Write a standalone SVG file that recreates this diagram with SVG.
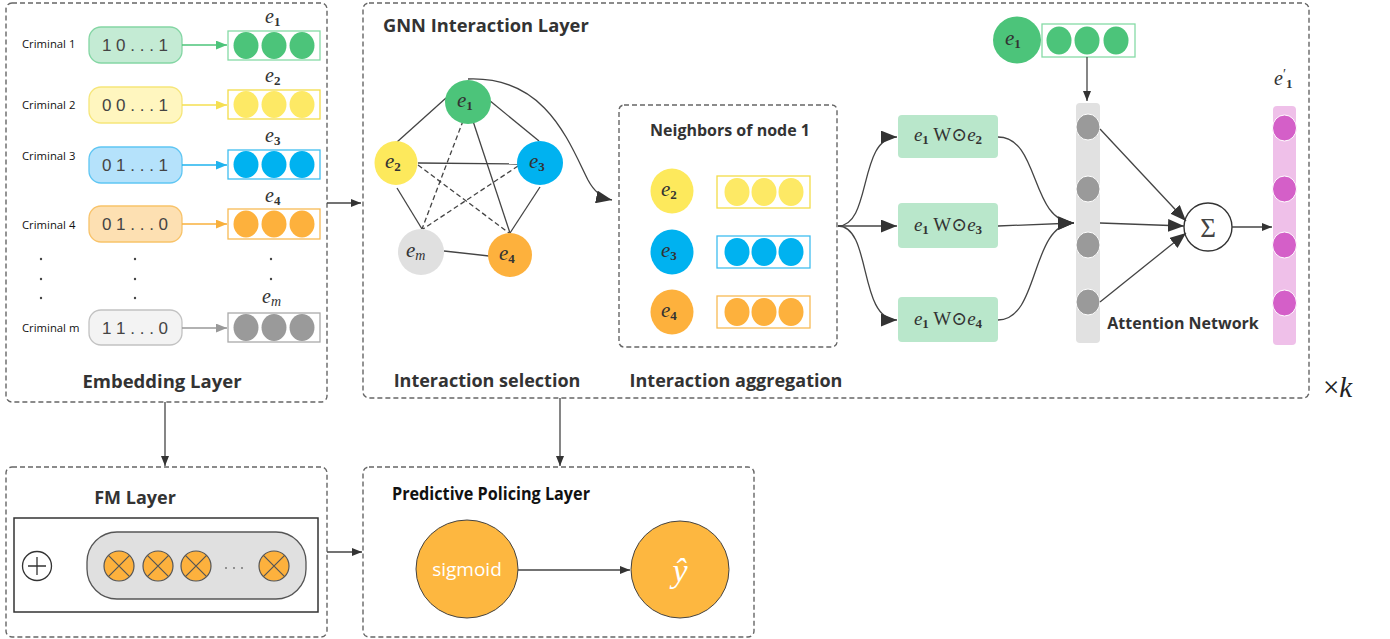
<svg xmlns="http://www.w3.org/2000/svg" width="1390" height="639" viewBox="0 0 1390 639">
<style>
.dbox{fill:none;stroke:#666;stroke-width:1.4;stroke-dasharray:5,3}
.title{font-family:"Open Sans","Noto Sans",sans-serif;font-weight:700;fill:#333}
.crim{font-family:"Open Sans","Noto Sans",sans-serif;font-size:11.3px;fill:#111}
.bits{font-family:"Liberation Sans",Arial,sans-serif;font-size:17px;fill:#444}
.m{font-family:"Liberation Serif","DejaVu Serif",serif;font-style:italic;fill:#333}
.sub{font-style:normal;font-weight:700}
.edge{stroke:#444;stroke-width:1.3;fill:none}
.dash{stroke-dasharray:5,3}
.conn{stroke:#444;stroke-width:1.3;fill:none}
.dot{fill:#444}
.prod{font-family:"Liberation Serif","DejaVu Serif",serif;font-size:19px;fill:#333}
</style>
<defs>
<marker id="ah" viewBox="0 0 10 8" refX="10" refY="4" markerWidth="10" markerHeight="8" markerUnits="userSpaceOnUse" orient="auto"><path d="M0,0L10,4L0,8z" fill="#333"/></marker>
<marker id="ahB" viewBox="0 0 10 8" refX="10" refY="4" markerWidth="16" markerHeight="13" markerUnits="userSpaceOnUse" orient="auto"><path d="M0,0L10,4L0,8z" fill="#333"/></marker>
<marker id="mG" viewBox="0 0 10 8" refX="10" refY="4" markerWidth="11" markerHeight="9" markerUnits="userSpaceOnUse" orient="auto"><path d="M0,0L10,4L0,8z" fill="#4cc47a"/></marker>
<marker id="mY" viewBox="0 0 10 8" refX="10" refY="4" markerWidth="11" markerHeight="9" markerUnits="userSpaceOnUse" orient="auto"><path d="M0,0L10,4L0,8z" fill="#f5df50"/></marker>
<marker id="mB" viewBox="0 0 10 8" refX="10" refY="4" markerWidth="11" markerHeight="9" markerUnits="userSpaceOnUse" orient="auto"><path d="M0,0L10,4L0,8z" fill="#1fb3ee"/></marker>
<marker id="mO" viewBox="0 0 10 8" refX="10" refY="4" markerWidth="11" markerHeight="9" markerUnits="userSpaceOnUse" orient="auto"><path d="M0,0L10,4L0,8z" fill="#f8b03c"/></marker>
<marker id="mK" viewBox="0 0 10 8" refX="10" refY="4" markerWidth="11" markerHeight="9" markerUnits="userSpaceOnUse" orient="auto"><path d="M0,0L10,4L0,8z" fill="#999"/></marker>
</defs>
<rect width="1390" height="639" fill="#fff"/>

<!-- Embedding layer -->
<g id="embedding-layer">
<rect class="dbox" x="6" y="3" width="321" height="399" rx="6"/>
<text class="title" x="162" y="388" font-size="18.5" text-anchor="middle">Embedding Layer</text>
<g id="row1">
<text class="crim" x="22" y="48">Criminal 1</text>
<rect x="89" y="27" width="93" height="36" rx="12" fill="#c4ebd4" stroke="#84d6a4" stroke-width="1.3"/>
<text class="bits" x="135" y="51" text-anchor="middle">1 0 . . . 1</text>
<line x1="182" y1="45" x2="227" y2="45" stroke="#4cc47a" stroke-width="1.3" marker-end="url(#mG)"/>
<rect x="228" y="31" width="92" height="29" fill="#fff" stroke="#86dba6" stroke-width="1.3"/>
<g fill="#4cc47a"><ellipse cx="246" cy="45.5" rx="12.5" ry="13.5"/><ellipse cx="274" cy="45.5" rx="12.5" ry="13.5"/><ellipse cx="302" cy="45.5" rx="12.5" ry="13.5"/></g>
<text class="m" x="265" y="23" font-size="20">e<tspan class="sub" font-size="13" dy="3">1</tspan></text>
</g>
<g id="row2">
<text class="crim" x="22" y="109">Criminal 2</text>
<rect x="89" y="87" width="93" height="36" rx="12" fill="#fff6bf" stroke="#f6e67a" stroke-width="1.3"/>
<text class="bits" x="135" y="111" text-anchor="middle">0 0 . . . 1</text>
<line x1="182" y1="105" x2="227" y2="105" stroke="#f5df50" stroke-width="1.3" marker-end="url(#mY)"/>
<rect x="228" y="90" width="92" height="29" fill="#fff" stroke="#f3dc48" stroke-width="1.3"/>
<g fill="#fde965"><ellipse cx="246" cy="104.5" rx="12.5" ry="13.5"/><ellipse cx="274" cy="104.5" rx="12.5" ry="13.5"/><ellipse cx="302" cy="104.5" rx="12.5" ry="13.5"/></g>
<text class="m" x="265" y="82" font-size="20">e<tspan class="sub" font-size="13" dy="3">2</tspan></text>
</g>
<g id="row3">
<text class="crim" x="22" y="160">Criminal 3</text>
<rect x="89" y="147" width="93" height="36" rx="12" fill="#b5e2fb" stroke="#5fc6f3" stroke-width="1.3"/>
<text class="bits" x="135" y="171" text-anchor="middle">0 1 . . . 1</text>
<line x1="182" y1="165" x2="227" y2="165" stroke="#1fb3ee" stroke-width="1.3" marker-end="url(#mB)"/>
<rect x="228" y="150" width="92" height="29" fill="#fff" stroke="#3fbdf0" stroke-width="1.3"/>
<g fill="#00b2f0"><ellipse cx="246" cy="164.5" rx="12.5" ry="13.5"/><ellipse cx="274" cy="164.5" rx="12.5" ry="13.5"/><ellipse cx="302" cy="164.5" rx="12.5" ry="13.5"/></g>
<text class="m" x="265" y="142" font-size="20">e<tspan class="sub" font-size="13" dy="3">3</tspan></text>
</g>
<g id="row4">
<text class="crim" x="22" y="229">Criminal 4</text>
<rect x="89" y="206" width="93" height="36" rx="12" fill="#fde0b2" stroke="#f8c36a" stroke-width="1.3"/>
<text class="bits" x="135" y="230" text-anchor="middle">0 1 . . . 0</text>
<line x1="182" y1="224" x2="227" y2="224" stroke="#f8b03c" stroke-width="1.3" marker-end="url(#mO)"/>
<rect x="228" y="209" width="92" height="30" fill="#fff" stroke="#f8bb55" stroke-width="1.3"/>
<g fill="#fdb13d"><ellipse cx="246" cy="224" rx="12.5" ry="13.5"/><ellipse cx="274" cy="224" rx="12.5" ry="13.5"/><ellipse cx="302" cy="224" rx="12.5" ry="13.5"/></g>
<text class="m" x="265" y="202" font-size="20">e<tspan class="sub" font-size="13" dy="3">4</tspan></text>
</g>
<g id="dots">
<circle class="dot" cx="41" cy="259" r="1.2"/><circle class="dot" cx="41" cy="279" r="1.2"/><circle class="dot" cx="41" cy="298" r="1.2"/>
<circle class="dot" cx="135" cy="259" r="1.2"/><circle class="dot" cx="135" cy="279" r="1.2"/><circle class="dot" cx="135" cy="298" r="1.2"/>
<circle class="dot" cx="271" cy="259" r="1.2"/><circle class="dot" cx="271" cy="279" r="1.2"/>
</g>
<g id="rowm">
<text class="crim" x="22" y="332">Criminal m</text>
<rect x="89" y="310" width="93" height="35" rx="12" fill="#f3f3f3" stroke="#c2c2c2" stroke-width="1.3"/>
<text class="bits" x="135" y="334" text-anchor="middle">1 1 . . . 0</text>
<line x1="182" y1="328" x2="227" y2="328" stroke="#999" stroke-width="1.3" marker-end="url(#mK)"/>
<rect x="228" y="313" width="92" height="29" fill="#fff" stroke="#aaa" stroke-width="1.3"/>
<g fill="#9a9a9a"><ellipse cx="246" cy="327.5" rx="12.5" ry="13.5"/><ellipse cx="274" cy="327.5" rx="12.5" ry="13.5"/><ellipse cx="302" cy="327.5" rx="12.5" ry="13.5"/></g>
<text class="m" x="262" y="303" font-size="20">e<tspan font-size="14" dy="3">m</tspan></text>
</g>
</g>

<!-- GNN interaction layer -->
<g id="gnn-layer">
<rect class="dbox" x="363" y="3" width="946" height="395" rx="6"/>
<text class="title" x="383" y="32" font-size="18.3">GNN Interaction Layer</text>
<text class="title" x="487" y="387" font-size="18" text-anchor="middle">Interaction selection</text>
<text class="title" x="736" y="387" font-size="18" text-anchor="middle">Interaction aggregation</text>
</g>

<!-- graph edges -->
<g id="graph-edges">
<line class="edge" x1="446" y1="98" x2="397" y2="142"/>
<line class="edge" x1="489" y1="100" x2="539" y2="141"/>
<line class="edge" x1="418" y1="163" x2="518" y2="164"/>
<line class="edge" x1="397" y1="188" x2="422" y2="229"/>
<line class="edge" x1="540" y1="187" x2="510" y2="233"/>
<line class="edge" x1="444" y1="251" x2="489" y2="256"/>
<line class="edge" x1="470" y1="112" x2="510" y2="233"/>
<line class="edge dash" x1="466" y1="113" x2="422" y2="229"/>
<line class="edge dash" x1="418" y1="165" x2="509" y2="233"/>
<line class="edge dash" x1="518" y1="166" x2="423" y2="229"/>
</g>
<g id="g-e1"><ellipse cx="468" cy="102" rx="23" ry="22" fill="#4cc47a"/><text class="m" x="457" y="107" font-size="21">e<tspan class="sub" font-size="13" dy="3">1</tspan></text></g>
<g id="g-e2"><ellipse cx="396" cy="163" rx="21.5" ry="22" fill="#fde95c"/><text class="m" x="385" y="168" font-size="21">e<tspan class="sub" font-size="13" dy="3">2</tspan></text></g>
<g id="g-e3"><ellipse cx="540" cy="163" rx="23" ry="22" fill="#00b2f0"/><text class="m" x="529" y="168" font-size="21">e<tspan class="sub" font-size="13" dy="3">3</tspan></text></g>
<g id="g-em"><ellipse cx="421" cy="252" rx="23" ry="23" fill="#e0e0e0"/><text class="m" x="406" y="257" font-size="21" fill="#555">e<tspan font-size="14" dy="3">m</tspan></text></g>
<g id="g-e4"><ellipse cx="510" cy="255" rx="22" ry="22" fill="#fdb13d"/><text class="m" x="499" y="260" font-size="21">e<tspan class="sub" font-size="13" dy="3">4</tspan></text></g>

<!-- Neighbors box -->
<g id="neighbors">
<rect class="dbox" x="619" y="105" width="218" height="242" rx="5"/>
<text class="title" x="730" y="136" font-size="16" text-anchor="middle">Neighbors of node 1</text>
<ellipse cx="672" cy="191" rx="21.5" ry="22.5" fill="#fde95c"/>
<text class="m" x="661" y="196" font-size="21">e<tspan class="sub" font-size="13" dy="3">2</tspan></text>
<ellipse cx="672" cy="252" rx="21.5" ry="22.5" fill="#00b2f0"/>
<text class="m" x="661" y="257" font-size="21">e<tspan class="sub" font-size="13" dy="3">3</tspan></text>
<ellipse cx="672" cy="312" rx="21.5" ry="22.5" fill="#fdb13d"/>
<text class="m" x="661" y="317" font-size="21">e<tspan class="sub" font-size="13" dy="3">4</tspan></text>
<rect x="717" y="176" width="93" height="32" fill="#fff" stroke="#f3dc48" stroke-width="1.3"/>
<g fill="#fde965"><ellipse cx="737" cy="192" rx="12.5" ry="14"/><ellipse cx="764" cy="192" rx="12.5" ry="14"/><ellipse cx="791" cy="192" rx="12.5" ry="14"/></g>
<rect x="717" y="236" width="93" height="32" fill="#fff" stroke="#3fbdf0" stroke-width="1.3"/>
<g fill="#00b2f0"><ellipse cx="737" cy="252" rx="12.5" ry="14"/><ellipse cx="764" cy="252" rx="12.5" ry="14"/><ellipse cx="791" cy="252" rx="12.5" ry="14"/></g>
<rect x="717" y="296" width="93" height="32" fill="#fff" stroke="#f8bb55" stroke-width="1.3"/>
<g fill="#fdb13d"><ellipse cx="737" cy="312" rx="12.5" ry="14"/><ellipse cx="764" cy="312" rx="12.5" ry="14"/><ellipse cx="791" cy="312" rx="12.5" ry="14"/></g>
</g>

<!-- product boxes -->
<g id="prod-e2"><rect x="898" y="115" width="100" height="43" rx="4" fill="#b9e7cb"/>
<text class="prod" x="948" y="141" text-anchor="middle"><tspan font-style="italic">e</tspan><tspan font-size="13" font-weight="700" dy="3">1</tspan><tspan dy="-3"> W⊙</tspan><tspan font-style="italic">e</tspan><tspan font-size="13" font-weight="700" dy="3">2</tspan></text></g>
<g id="prod-e3"><rect x="898" y="203" width="100" height="45" rx="4" fill="#b9e7cb"/>
<text class="prod" x="948" y="231" text-anchor="middle"><tspan font-style="italic">e</tspan><tspan font-size="13" font-weight="700" dy="3">1</tspan><tspan dy="-3"> W⊙</tspan><tspan font-style="italic">e</tspan><tspan font-size="13" font-weight="700" dy="3">3</tspan></text></g>
<g id="prod-e4"><rect x="898" y="297" width="100" height="45" rx="4" fill="#b9e7cb"/>
<text class="prod" x="948" y="325" text-anchor="middle"><tspan font-style="italic">e</tspan><tspan font-size="13" font-weight="700" dy="3">1</tspan><tspan dy="-3"> W⊙</tspan><tspan font-style="italic">e</tspan><tspan font-size="13" font-weight="700" dy="3">4</tspan></text></g>

<!-- top e1 -->
<g id="top-e1">
<ellipse cx="1017" cy="40" rx="24" ry="23.5" fill="#4cc47a"/>
<text class="m" x="1005" y="45" font-size="21">e<tspan class="sub" font-size="13" dy="3">1</tspan></text>
<rect x="1042" y="24" width="93" height="33" fill="#fff" stroke="#86dba6" stroke-width="1.3"/>
<g fill="#4cc47a"><ellipse cx="1059" cy="40.5" rx="12.5" ry="14"/><ellipse cx="1087" cy="40.5" rx="12.5" ry="14"/><ellipse cx="1116" cy="40.5" rx="12.5" ry="14"/></g>
</g>

<!-- attention -->
<g id="attention">
<rect x="1076" y="103" width="24" height="240" rx="4" fill="#e1e1e1"/>
<g fill="#9a9a9a" stroke="#fff" stroke-width="1"><ellipse cx="1088" cy="127" rx="12" ry="13"/><ellipse cx="1088" cy="189" rx="12" ry="13"/><ellipse cx="1088" cy="245" rx="12" ry="13"/><ellipse cx="1088" cy="302" rx="12" ry="13"/></g>
<text class="title" x="1183" y="329" font-size="16" text-anchor="middle">Attention Network</text>
</g>
<g id="sum">
<circle cx="1208" cy="227" r="24" fill="#fff" stroke="#333" stroke-width="1.4"/>
<text x="1208" y="237" font-size="27" text-anchor="middle" font-family="Liberation Serif,DejaVu Serif,serif" fill="#444">Σ</text>
</g>
<g id="output-e1p">
<rect x="1273" y="106" width="23" height="239" rx="4" fill="#efc0e9"/>
<g fill="#d45fc8" stroke="#fff" stroke-width="1"><ellipse cx="1284.5" cy="128" rx="12" ry="13"/><ellipse cx="1284.5" cy="189" rx="12" ry="13"/><ellipse cx="1284.5" cy="245" rx="12" ry="13"/><ellipse cx="1284.5" cy="303" rx="12" ry="13"/></g>
<text class="m" x="1274" y="85" font-size="20">e<tspan font-style="normal" font-size="14" dx="0" dy="-6">′</tspan><tspan class="sub" font-size="13" dx="0" dy="9">1</tspan></text>
</g>
<text id="times-k" x="1323" y="397" font-size="29" font-family="Liberation Serif,DejaVu Serif,serif" fill="#222">×<tspan font-style="italic">k</tspan></text>

<!-- FM layer -->
<g id="fm-layer">
<rect class="dbox" x="6" y="467" width="321" height="170" rx="6"/>
<text class="title" x="135" y="504" font-size="18" text-anchor="middle">FM Layer</text>
<rect x="14" y="518" width="304" height="94" fill="#fff" stroke="#333" stroke-width="1.5"/>
<circle cx="37" cy="566" r="14.5" fill="#fff" stroke="#333" stroke-width="1.3"/>
<path d="M28,566H46M37,557V575" stroke="#333" stroke-width="1.3"/>
<rect x="87" y="532" width="219" height="67" rx="30" fill="#e0e0e0" stroke="#555" stroke-width="1.3"/>
<g stroke="#555" stroke-width="1.2">
<circle cx="119" cy="566" r="15" fill="#fdb13d"/><path d="M108.4,555.4L129.6,576.6M129.6,555.4L108.4,576.6"/>
<circle cx="158" cy="566" r="15" fill="#fdb13d"/><path d="M147.4,555.4L168.6,576.6M168.6,555.4L147.4,576.6"/>
<circle cx="196" cy="566" r="15" fill="#fdb13d"/><path d="M185.4,555.4L206.6,576.6M206.6,555.4L185.4,576.6"/>
<circle cx="274" cy="566" r="15" fill="#fdb13d"/><path d="M263.4,555.4L284.6,576.6M284.6,555.4L263.4,576.6"/>
</g>
<g fill="#777"><circle cx="226" cy="568" r="1"/><circle cx="234" cy="568" r="1"/><circle cx="242" cy="568" r="1"/></g>
</g>

<!-- Predictive policing layer -->
<g id="pp-layer">
<rect class="dbox" x="363" y="467" width="391" height="170" rx="6"/>
<text x="392" y="500" font-size="17" font-weight="700" textLength="198" lengthAdjust="spacingAndGlyphs" font-family="Open Sans,Noto Sans,sans-serif" fill="#111">Predictive Policing Layer</text>
</g>
<g id="sigmoid"><ellipse cx="467" cy="569" rx="51" ry="49" fill="#fdb740" stroke="#444" stroke-width="1"/>
<text x="467" y="576" font-size="19" text-anchor="middle" font-family="Open Sans,Noto Sans,sans-serif" fill="#fff">sigmoid</text></g>
<g id="yhat"><ellipse cx="680" cy="569.5" rx="49" ry="48.5" fill="#fdb740" stroke="#444" stroke-width="1"/>
<text x="680" y="582" font-size="34" text-anchor="middle" font-style="italic" font-family="Liberation Serif,DejaVu Serif,serif" fill="#fff">ŷ</text></g>

<!-- connectors -->
<g id="connectors">
<line class="conn" x1="327" y1="203" x2="361" y2="203" marker-end="url(#ah)"/>
<path class="conn" d="M468,79 C545,76 568,140 588,180 Q597,197 612,200" marker-end="url(#ahB)"/>
<path class="conn" d="M838,226 C872,226 858,137 897,137" marker-end="url(#ahB)"/>
<line class="conn" x1="838" y1="226" x2="897" y2="226" marker-end="url(#ahB)"/>
<path class="conn" d="M838,226 C872,226 858,320 897,320" marker-end="url(#ahB)"/>
<path class="conn" d="M998,137 C1040,137 1030,222 1074,223" marker-end="url(#ahB)"/>
<line class="conn" x1="998" y1="226" x2="1074" y2="223" marker-end="url(#ahB)"/>
<path class="conn" d="M998,320 C1040,320 1030,224 1074,223" marker-end="url(#ahB)"/>
<line class="conn" x1="1087" y1="57" x2="1087" y2="101" marker-end="url(#ah)"/>
<line class="conn" x1="1100" y1="129" x2="1186" y2="221" marker-end="url(#ahB)"/>
<line class="conn" x1="1100" y1="223" x2="1184" y2="226" marker-end="url(#ahB)"/>
<line class="conn" x1="1100" y1="302" x2="1186" y2="233" marker-end="url(#ahB)"/>
<line class="conn" x1="1232" y1="227" x2="1272" y2="227" marker-end="url(#ah)"/>
<line class="conn" x1="165" y1="402" x2="165" y2="466" marker-end="url(#ah)"/>
<line class="conn" x1="560" y1="398" x2="560" y2="466" marker-end="url(#ah)"/>
<line class="conn" x1="327" y1="552" x2="362" y2="552" marker-end="url(#ah)"/>
<line class="conn" x1="518" y1="570" x2="630" y2="570" marker-end="url(#ah)"/>
</g>
</svg>
